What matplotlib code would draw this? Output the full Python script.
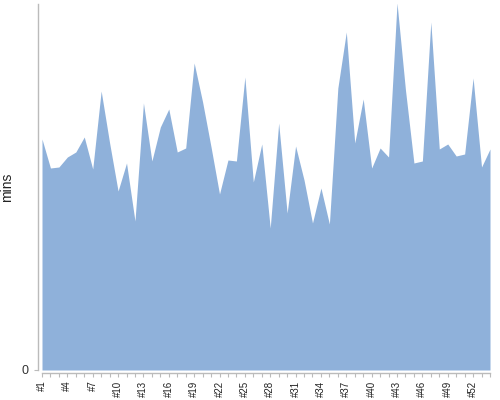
import numpy as np
import matplotlib.pyplot as plt

plt.rcParams['font.family'] = ['Liberation Sans', 'DejaVu Sans']

# values (minutes, arbitrary scale)
runs = [f"#{i}" for i in range(1, 55)]
mins = [231, 202, 203, 213, 218, 233, 201, 279, 227, 179,
        207, 149, 267, 209, 243, 261, 218, 222, 307, 268,
        223, 176, 210, 209, 293, 188, 226, 142, 247, 157,
        224, 190, 147, 182, 146, 282, 338, 227, 271, 202,
        222, 213, 367, 280, 207, 209, 348, 221, 226, 214,
        216, 292, 203, 221]

x = np.arange(1, len(mins) + 1)

fig = plt.figure(figsize=(5, 4), dpi=100)
ax = fig.add_axes([0.084, 0.075, 0.896, 0.915])

ax.fill_between(x, mins, 0, color='#8fb1da', linewidth=0)

ax.set_xlim(1, len(mins))
ax.set_ylim(0, 366)

for side in ['top', 'right']:
    ax.spines[side].set_visible(False)
ax.spines['left'].set_position(('outward', 3))
ax.spines['bottom'].set_position(('outward', 2.5))
for side in ['left', 'bottom']:
    ax.spines[side].set_color('#bbbbbb')
    ax.spines[side].set_linewidth(1)

ax.set_xticks(x)
ax.set_xticklabels([r if i % 3 == 0 else '' for i, r in enumerate(runs)],
                   rotation=90, fontsize=7, color='#222222')
ax.tick_params(axis='x', length=3, color='#bbbbbb', pad=2)

ax.set_yticks([0])
ax.set_yticklabels(['0'], fontsize=9, color='#333333')
ax.tick_params(axis='y', length=3, color='#bbbbbb', pad=4)

ax.set_ylabel('mins', fontsize=10, color='#222222')
ax.yaxis.set_label_coords(-0.062, 0.5)

fig.savefig('out.png', dpi=100)
